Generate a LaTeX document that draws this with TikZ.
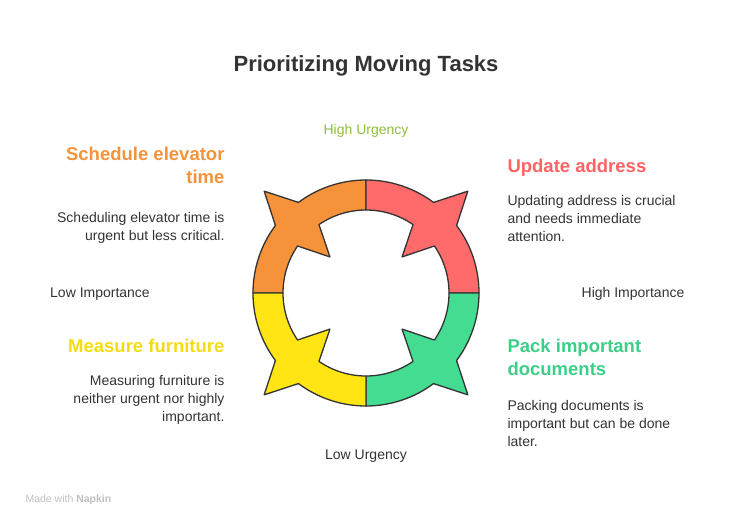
\documentclass[tikz,border=0pt]{standalone}
\usetikzlibrary{calc}
\usepackage{fontspec}
\setmainfont{Liberation Sans}
\definecolor{cor}{HTML}{F5923A}
\definecolor{cred}{HTML}{FF6B6B}
\definecolor{cgr}{HTML}{43DC90}
\definecolor{cye}{HTML}{FFE513}
\definecolor{tor}{HTML}{F5923A}
\definecolor{tred}{HTML}{FF6363}
\definecolor{tgr}{HTML}{3CCF88}
\definecolor{tye}{HTML}{F5DC12}
\definecolor{txt}{HTML}{333333}
\definecolor{hu}{HTML}{8CBF3A}
\begin{document}
\begin{tikzpicture}[x=1pt,y=1pt,
  seg/.style={draw=txt,line width=1.3pt,line join=round},
  head/.style={font=\fontsize{18.5}{23}\selectfont\bfseries},
  body/.style={font=\fontsize{14}{18}\selectfont,text=txt},
  axis/.style={font=\fontsize{14}{16}\selectfont,text=txt}]
\useasboundingbox (0,0) rectangle (732,528);
\coordinate (c) at (366,235);
\foreach \a/\col in {90/cor,0/cred,270/cgr,180/cye}{
  \path[seg,fill=\col] ($(c)+(\a:113)$) arc[start angle=\a,end angle=\a+36.7,radius=113]
    -- ($(c)+(\a+45:144)$) -- ($(c)+(\a+53.3:113)$)
    arc[start angle=\a+53.3,end angle=\a+90,radius=113]
    -- ($(c)+(\a+90:83)$) arc[start angle=\a+90,end angle=\a+55.5,radius=83]
    -- ($(c)+(\a+45:51)$) -- ($(c)+(\a+34.5:83)$)
    arc[start angle=\a+34.5,end angle=\a,radius=83] -- cycle;
}
\node[font=\fontsize{22}{25}\selectfont\bfseries,text=txt] (t) at (366,462) {Prioritizing Moving Tasks};
\node[axis,text=hu] (hu) at (366,397) {High Urgency};
\node[axis] (lu) at (366,72) {Low Urgency};
\node[axis] (li) at (100,234) {Low Importance};
\node[axis] (hi) at (633,234) {High Importance};
\node[head,text=tor,align=right,anchor=north east] (h1) at (228,384) {Schedule elevator\\time};
\node[body,align=right,anchor=north east] (b1) at (228,319) {Scheduling elevator time is\\urgent but less critical.};
\node[head,text=tred,align=left,anchor=north west] (h2) at (504,372) {Update address};
\node[body,align=left,anchor=north west] (b2) at (504,336) {Updating address is crucial\\and needs immediate\\attention.};
\node[head,text=tye,align=right,anchor=north east] (h3) at (228,192) {Measure furniture};
\node[body,align=right,anchor=north east] (b3) at (228,156) {Measuring furniture is\\neither urgent nor highly\\important.};
\node[head,text=tgr,align=left,anchor=north west] (h4) at (504,192) {Pack important\\documents};
\node[body,align=left,anchor=north west] (b4) at (504,131) {Packing documents is\\important but can be done\\later.};
\node[font=\fontsize{10.5}{12}\selectfont,text=black!25,anchor=west] (m) at (22,28) {Made with \textbf{Napkin}};
\end{tikzpicture}
\end{document}
